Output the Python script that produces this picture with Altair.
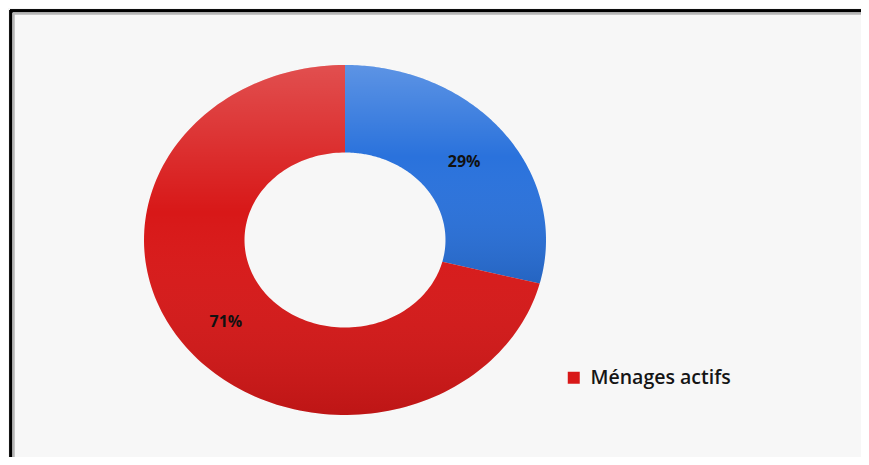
import altair as alt
import pandas as pd

categories = ["Ménages inactifs", "Ménages actifs"]
values = [29, 71]
labels = ["29%", "71%"]
order = [0, 1]
colors = ["#2a72dc", "#d81818"]

df = pd.DataFrame({"cat": categories, "val": values, "label": labels, "ord": order})

W, H = 853, 449
CX, CY = 335, 230      # centre of the donut, px
RX, RY = 201, 175      # outer half-width / half-height of the elliptical donut, px
INNER = 0.5            # inner radius ratio
N = 150                # samples per edge

xscale = alt.Scale(domain=[-CX / RX, (W - CX) / RX], range=[0, W], nice=False, zero=False)
yscale = alt.Scale(domain=[(CY - H) / RY, CY / RY], range=[H, 0], nice=False, zero=False)

prep = (
    alt.Chart(df)
    .transform_window(cum="sum(val)", sort=[alt.SortField("ord", order="ascending")],
                      frame=[None, 0])
    .transform_joinaggregate(total="sum(val)")
    .transform_calculate(
        a0="2*PI*(datum.cum - datum.val)/datum.total",
        a1="2*PI*datum.cum/datum.total",
    )
)

ring = (
    prep.transform_calculate(i=f"sequence(0, {2 * N + 2})")
    .transform_flatten(["i"])
    .transform_calculate(
        t=f"datum.i <= {N} ? datum.i/{N} : ({2 * N + 1} - datum.i)/{N}",
        r=f"datum.i <= {N} ? 1 : {INNER}",
    )
    .transform_calculate(a="datum.a0 + (datum.a1 - datum.a0)*datum.t")
    .transform_calculate(px="datum.r*sin(datum.a)", py="datum.r*cos(datum.a)")
)

enc = dict(
    x=alt.X("px:Q", scale=xscale, axis=None),
    y=alt.Y("py:Q", scale=yscale, axis=None),
    order=alt.Order("i:Q"),
    detail="cat:N",
)

slices = ring.mark_line(filled=True, strokeWidth=0, interpolate="linear").encode(
    color=alt.Color(
        "cat:N",
        scale=alt.Scale(domain=categories, range=colors),
        legend=alt.Legend(
            values=["Ménages actifs"], title=None, orient="none",
            legendX=554, legendY=358, symbolType="square", symbolSize=144,
            symbolStrokeWidth=0, symbolFillColor="#d01515", symbolOpacity=1,
            labelFont="Open Sans", labelFontSize=19.5, labelFontWeight=600,
            labelColor="#151515", labelOffset=7, padding=0,
        ),
    ),
    **enc,
)

shade = ring.mark_line(
    filled=True, strokeWidth=0,
    fill=alt.Gradient(
        gradient="linear", x1=0, y1=0, x2=0, y2=1,
        stops=[
            alt.GradientStop(color="rgba(255,255,255,0.24)", offset=0),
            alt.GradientStop(color="rgba(255,255,255,0)", offset=0.42),
            alt.GradientStop(color="rgba(0,0,0,0.12)", offset=1),
        ],
    ),
).encode(**enc)

text = (
    prep.transform_calculate(am="(datum.a0 + datum.a1)/2")
    .transform_calculate(px="0.75*sin(datum.am)", py="0.75*cos(datum.am)")
    .mark_text(font="Open Sans", fontSize=16, fontWeight="bold", color="#111111", dy=2)
    .encode(
        x=alt.X("px:Q", scale=xscale, axis=None),
        y=alt.Y("py:Q", scale=yscale, axis=None),
        text="label:N",
    )
)

top_border = alt.Chart(df).mark_rule(color="#000000", strokeWidth=3).encode(
    x=alt.value(0), x2=alt.value(W), y=alt.value(0.8)
)
left_border = alt.Chart(df).mark_rule(color="#000000", strokeWidth=3).encode(
    y=alt.value(0), y2=alt.value(H), x=alt.value(0.8)
)
top_gray = alt.Chart(df).mark_rule(color="#b5b5b5", strokeWidth=2).encode(
    x=alt.value(3), x2=alt.value(W), y=alt.value(3.5)
)
left_gray = alt.Chart(df).mark_rule(color="#b5b5b5", strokeWidth=2).encode(
    y=alt.value(3), y2=alt.value(H), x=alt.value(3.5)
)

chart = alt.layer(
    slices, shade, text, top_border, left_border, top_gray, left_gray
).properties(
    width=W, height=H, background="#f7f7f7", padding=0,
    autosize=alt.AutoSizeParams(type="fit", contains="padding"),
).configure_view(stroke=None)

chart.save("out.html", embed_options={"renderer": "svg", "actions": False})
